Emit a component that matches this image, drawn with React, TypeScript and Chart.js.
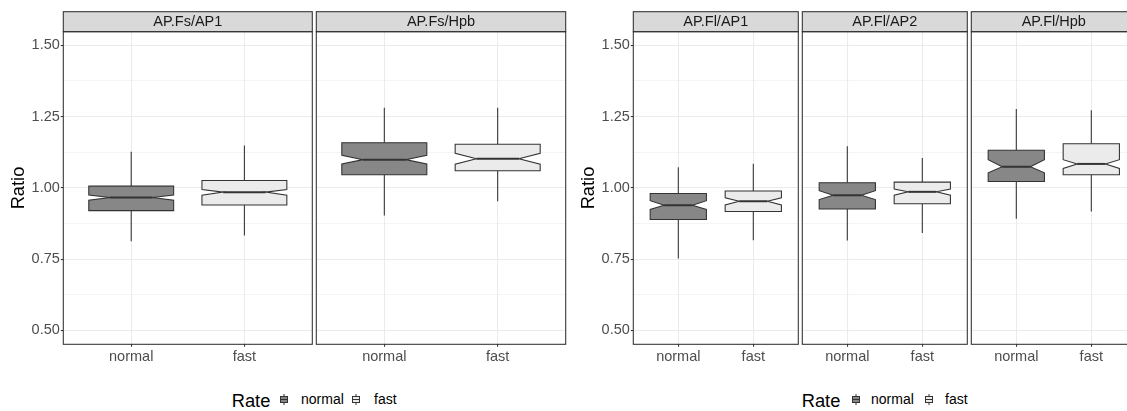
import React, { useEffect, useRef } from "react";
import { Chart, registerables } from "chart.js";

Chart.register(...registerables);

// ---------- data ----------
const categories = ["normal", "fast"];
const panelTitles = ["AP.Fs/AP1", "AP.Fs/Hpb", "AP.Fl/AP1", "AP.Fl/AP2", "AP.Fl/Hpb"];
const yMajorTicks = [0.5, 0.75, 1.0, 1.25, 1.5];
const yMinorTicks = [0.625, 0.875, 1.125, 1.375];
const yTickLabels = ["0.50", "0.75", "1.00", "1.25", "1.50"];
const yAxisTitle = "Ratio";
const legendTitle = "Rate";
const fillColors = ["#878787", "#EBEBEB"];

// each row is one panel: [normal, fast]
const whiskerLow = [[0.813, 0.833], [0.903, 0.953], [0.752, 0.816], [0.815, 0.842], [0.892, 0.917]];
const q1 = [[0.920, 0.940], [1.046, 1.060], [0.889, 0.917], [0.926, 0.944], [1.022, 1.046]];
const notchLow = [[0.957, 0.974], [1.084, 1.083], [0.924, 0.940], [0.959, 0.974], [1.053, 1.068]];
const median = [[0.966, 0.985], [1.099, 1.102], [0.939, 0.953], [0.974, 0.986], [1.074, 1.084]];
const notchHigh = [[0.975, 0.994], [1.114, 1.121], [0.955, 0.965], [0.990, 0.996], [1.099, 1.099]];
const q3 = [[1.006, 1.026], [1.158, 1.153], [0.980, 0.989], [1.018, 1.020], [1.132, 1.155]];
const whiskerHigh = [[1.127, 1.149], [1.281, 1.281], [1.072, 1.085], [1.146, 1.105], [1.277, 1.272]];

// ---------- style / layout ----------
const FONT = '"Liberation Sans", Arial, Helvetica, sans-serif';
const DARK = "#333333";
const GRID = "#EBEBEB";
const BOX_WIDTH = 0.75;
const NOTCH_WIDTH = 0.5;
const STRIP_TOP = 11.7;
const PLOT_TOP = 31.7;
const PLOT_BOTTOM = 344.3;
const CANVAS_H = 370;

const panelLayout = [
  { plotLeft: 63.3, plotRight: 312.3, axis: true, groupLeft: 0 },
  { plotLeft: 316.3, plotRight: 565.7, axis: false, groupLeft: 0 },
  { plotLeft: 633.3, plotRight: 798.3, axis: true, groupLeft: 570 },
  { plotLeft: 802.3, plotRight: 967.3, axis: false, groupLeft: 570 },
  { plotLeft: 971.3, plotRight: 1136.3, axis: false, groupLeft: 570 },
];

const isMajor = (v: number) => yMajorTicks.some((m) => Math.abs(m - v) < 1e-9);

const boxPlugin = {
  id: "notchedBoxes",
  afterDatasetsDraw(chart: any, _args: any, opts: any) {
    const p = opts.panel as number;
    const { ctx } = chart;
    const xs = chart.scales.x;
    const ys = chart.scales.y;
    ctx.save();
    categories.forEach((_c, j) => {
      const xc = xs.getPixelForValue(j + 1);
      const half = xs.getPixelForValue(j + 1 + BOX_WIDTH / 2) - xc;
      const xl = xc - half;
      const xr = xc + half;
      const ind = half * (1 - NOTCH_WIDTH);
      const yWL = ys.getPixelForValue(whiskerLow[p][j]);
      const yQ1 = ys.getPixelForValue(q1[p][j]);
      const yNL = ys.getPixelForValue(notchLow[p][j]);
      const yMed = ys.getPixelForValue(median[p][j]);
      const yNH = ys.getPixelForValue(notchHigh[p][j]);
      const yQ3 = ys.getPixelForValue(q3[p][j]);
      const yWH = ys.getPixelForValue(whiskerHigh[p][j]);

      ctx.strokeStyle = DARK;
      ctx.lineWidth = 1.07;
      ctx.beginPath();
      ctx.moveTo(xc, yQ3);
      ctx.lineTo(xc, yWH);
      ctx.moveTo(xc, yQ1);
      ctx.lineTo(xc, yWL);
      ctx.stroke();

      ctx.beginPath();
      ctx.moveTo(xl, yQ3);
      ctx.lineTo(xl, yNH);
      ctx.lineTo(xl + ind, yMed);
      ctx.lineTo(xl, yNL);
      ctx.lineTo(xl, yQ1);
      ctx.lineTo(xr, yQ1);
      ctx.lineTo(xr, yNL);
      ctx.lineTo(xr - ind, yMed);
      ctx.lineTo(xr, yNH);
      ctx.lineTo(xr, yQ3);
      ctx.closePath();
      ctx.fillStyle = fillColors[j];
      ctx.fill();
      ctx.stroke();

      ctx.lineWidth = 2;
      ctx.beginPath();
      ctx.moveTo(xl + ind, yMed);
      ctx.lineTo(xr - ind, yMed);
      ctx.stroke();
    });
    ctx.restore();
  },
  afterDraw(chart: any, _args: any, opts: any) {
    const p = opts.panel as number;
    const { ctx, chartArea } = chart;
    const { left, right, top, bottom } = chartArea;
    ctx.save();
    ctx.fillStyle = "#D9D9D9";
    ctx.fillRect(left, STRIP_TOP, right - left, top - STRIP_TOP);
    ctx.strokeStyle = DARK;
    ctx.lineWidth = 1.07;
    ctx.strokeRect(left, STRIP_TOP, right - left, top - STRIP_TOP);
    ctx.strokeRect(left, top, right - left, bottom - top);
    ctx.fillStyle = "#1A1A1A";
    ctx.font = `14.5px ${FONT}`;
    ctx.textAlign = "center";
    ctx.textBaseline = "middle";
    ctx.fillText(panelTitles[p], (left + right) / 2, (STRIP_TOP + top) / 2 + 0.5);
    ctx.restore();
  },
};

function Panel({ index }: { index: number }) {
  const ref = useRef<HTMLCanvasElement | null>(null);
  const L = panelLayout[index];
  const canvasLeft = L.axis ? L.groupLeft : Math.floor(L.plotLeft - 2);
  const canvasRight = Math.ceil(L.plotRight + 1.5);
  const width = canvasRight - canvasLeft;
  const padLeft = L.axis ? 0 : L.plotLeft - canvasLeft;
  const padRight = canvasRight - L.plotRight;

  useEffect(() => {
    if (!ref.current) return;
    const allY = [...yMajorTicks, ...yMinorTicks].sort((a, b) => a - b);
    const chart = new Chart(ref.current, {
      type: "scatter",
      data: { datasets: [] },
      options: {
        responsive: false,
        animation: false,
        devicePixelRatio: 1,
        layout: { padding: { left: padLeft, right: padRight, top: PLOT_TOP, bottom: 0 } },
        plugins: {
          legend: { display: false },
          tooltip: { enabled: false },
          notchedBoxes: { panel: index },
        } as any,
        scales: {
          x: {
            type: "linear",
            min: 0.4,
            max: 2.6,
            afterBuildTicks: (s: any) => {
              s.ticks = categories.map((_c, i) => ({ value: i + 1 }));
            },
            afterFit: (s: any) => {
              s.height = CANVAS_H - PLOT_BOTTOM;
            },
            ticks: {
              autoSkip: false,
              maxRotation: 0,
              padding: 1,
              color: "#4D4D4D",
              font: { family: FONT, size: 14.5 },
              callback: (_v: any, i: number) => categories[i],
            },
            grid: {
              color: GRID,
              lineWidth: 1.07,
              drawTicks: true,
              tickLength: 2.5,
              tickColor: DARK,
              tickWidth: 1.07,
            },
            border: { display: false },
          },
          y: {
            type: "linear",
            min: 0.451,
            max: 1.548,
            afterBuildTicks: (s: any) => {
              s.ticks = allY.map((v) => ({ value: v }));
            },
            afterFit: (s: any) => {
              s.width = L.axis ? L.plotLeft - L.groupLeft : 0;
            },
            ticks: {
              display: L.axis,
              autoSkip: false,
              padding: 1,
              color: "#4D4D4D",
              font: { family: FONT, size: 14.5 },
              callback: (v: any) => {
                const k = yMajorTicks.findIndex((m) => Math.abs(m - v) < 1e-9);
                return k >= 0 ? yTickLabels[k] : "";
              },
            },
            grid: {
              color: GRID,
              lineWidth: (c: any) => (c.tick && isMajor(c.tick.value) ? 1.07 : 0.53),
              drawTicks: L.axis,
              tickLength: 2.5,
              tickColor: (c: any) => (c.tick && isMajor(c.tick.value) ? DARK : "rgba(0,0,0,0)"),
              tickWidth: 1.07,
            },
            border: { display: false },
            title: {
              display: L.axis,
              text: yAxisTitle,
              color: "#000000",
              font: { family: FONT, size: 18.3 },
              padding: { top: 8, bottom: 0 },
            },
          },
        },
      } as any,
      plugins: [boxPlugin],
    });
    return () => chart.destroy();
  }, [index]);

  return (
    <canvas
      ref={ref}
      width={width}
      height={CANVAS_H}
      style={{ position: "absolute", left: canvasLeft, top: 0, width, height: CANVAS_H }}
    />
  );
}

function LegendIcon({ cx, fill }: { cx: number; fill: string }) {
  return (
    <svg
      width={8}
      height={11}
      style={{ position: "absolute", left: cx - 4, top: 393.5 }}
    >
      <line x1={4} x2={4} y1={0} y2={11} stroke={DARK} strokeWidth={1} />
      <rect x={0.5} y={2.5} width={7} height={6} fill={fill} stroke={DARK} strokeWidth={1} />
      <line x1={0.5} x2={7.5} y1={5.5} y2={5.5} stroke={DARK} strokeWidth={1} />
    </svg>
  );
}

function Legend({ titleX, iconX, labelX }: { titleX: number; iconX: number[]; labelX: number[] }) {
  return (
    <>
      <span
        style={{
          position: "absolute",
          left: titleX,
          top: 391.8,
          fontFamily: FONT,
          fontSize: 18.3,
          lineHeight: "18.3px",
          color: "#000",
          whiteSpace: "nowrap",
        }}
      >
        {legendTitle}
      </span>
      {categories.map((c, i) => (
        <React.Fragment key={c}>
          <LegendIcon cx={iconX[i]} fill={fillColors[i]} />
          <span
            style={{
              position: "absolute",
              left: labelX[i],
              top: 392.4,
              fontFamily: FONT,
              fontSize: 14,
              lineHeight: "14px",
              color: "#000",
              whiteSpace: "nowrap",
            }}
          >
            {c}
          </span>
        </React.Fragment>
      ))}
    </>
  );
}

export default function App() {
  return (
    <div
      style={{
        position: "absolute",
        left: 0,
        top: 0,
        width: 1127,
        height: 411,
        overflow: "hidden",
        background: "#FFFFFF",
      }}
    >
      {panelLayout.map((_l, i) => (
        <Panel key={i} index={i} />
      ))}
      <Legend titleX={231.7} iconX={[283.5, 356]} labelX={[301, 374]} />
      <Legend titleX={801.7} iconX={[856, 929]} labelX={[871, 945]} />
    </div>
  );
}
